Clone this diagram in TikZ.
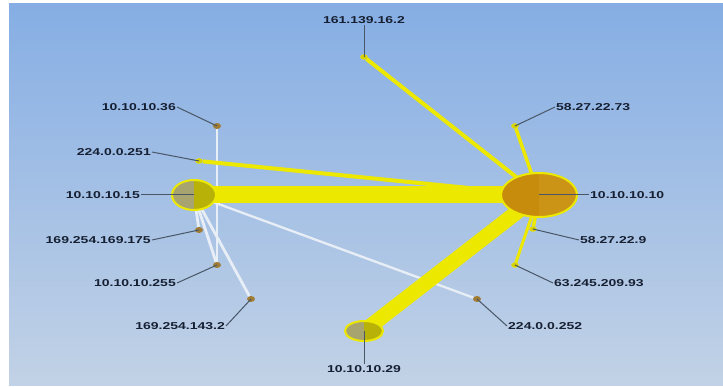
\documentclass[tikz,border=0pt]{standalone}
\usepackage{fontspec}
\usepackage{tikz}
\usetikzlibrary{shapes.geometric}
\newfontfamily\ipfont[FakeStretch=1.4]{Liberation Sans}
\definecolor{bgtop}{RGB}{134,174,228}
\definecolor{bgbottom}{RGB}{194,210,230}
\definecolor{flowyellow}{RGB}{236,232,0}
\definecolor{flowwhite}{RGB}{232,238,246}
\definecolor{hostbrown}{RGB}{160,124,52}
\definecolor{hostlit}{RGB}{214,208,0}
\definecolor{hubleft}{RGB}{200,140,12}
\definecolor{hubright}{RGB}{203,148,22}
\definecolor{srcleft}{RGB}{168,164,112}
\definecolor{srcright}{RGB}{184,178,8}
\definecolor{leadgray}{RGB}{72,86,102}
\definecolor{iptext}{RGB}{22,32,50}

\begin{document}
\begin{tikzpicture}[x=1pt,y=-1pt,
  hub/.style={ellipse,draw=flowyellow,line width=2pt,fill=hubleft,inner sep=0pt,
    path picture={\fill[hubright] (path picture bounding box.north) rectangle (path picture bounding box.south east);}},
  src/.style={ellipse,draw=flowyellow,line width=2pt,fill=srcleft,inner sep=0pt,
    path picture={\fill[srcright] (path picture bounding box.north) rectangle (path picture bounding box.south east);}},
  host/.style={ellipse,fill=hostbrown,minimum width=8pt,minimum height=6pt,inner sep=0pt},
  litehost/.style={ellipse,fill=hostlit,draw=flowyellow,minimum width=7pt,minimum height=5pt,inner sep=0pt},
  ylink/.style={draw=flowyellow},
  wlink/.style={draw=flowwhite,line width=2.8pt},
  lead/.style={draw=leadgray,line width=1pt},
  ip/.style={font=\ipfont\bfseries\fontsize{10}{12}\selectfont,text=iptext,inner sep=1pt}]

\useasboundingbox (0,0) rectangle (723,387);
\shade[top color=bgtop,bottom color=bgbottom] (9,4) rectangle (723,385);

% hosts
\node[host] (d36) at (217,126) {};
\node[litehost] (d251) at (199,161) {};
\node[host] (d175) at (199,230) {};
\node[host] (d255) at (217,265) {};
\node[host] (d143) at (251,299) {};
\node[host] (d252) at (477,299) {};
\node[litehost] (d161) at (364,57) {};
\node[litehost] (d73) at (515,126) {};
\node[litehost] (d9) at (533,229) {};
\node[litehost] (d93) at (515,265) {};
\coordinate (c15) at (194,195);
\coordinate (c10) at (539,195);
\coordinate (c29) at (364,331);

% white flows
\draw[wlink] (d36) -- (d255);
\draw[wlink] (c15) -- (d255);
\draw[wlink] (c15) -- (d143);
\draw[wlink] (c15) -- (d175);
\draw[wlink,line width=2.3pt] (c15) -- (d252);

% yellow flows
\draw[ylink,line width=17pt] (c15) -- (c10);
\draw[ylink,line width=15pt] (c10) -- (c29);
\draw[ylink,line width=4pt] (d251) -- (c10);
\draw[ylink,line width=4pt] (d161) -- (c10);
\draw[ylink,line width=3.5pt] (d73) -- (c10);
\draw[ylink,line width=3.5pt] (d9) -- (c10);
\draw[ylink,line width=3pt] (d93) -- (c10);

% talkers
\node[hub,minimum width=76pt,minimum height=44pt] (n10) at (c10) {};
\node[src,minimum width=44pt,minimum height=30pt] (n15) at (c15) {};
\node[src,minimum width=38pt,minimum height=20pt] (n29) at (c29) {};

% labels
\node[ip,anchor=south] (l161) at (364,25) {161.139.16.2};
\node[ip,anchor=west] (l73) at (555,107) {58.27.22.73};
\node[ip,anchor=west] (l10) at (589,195) {10.10.10.10};
\node[ip,anchor=west] (l9) at (579,240) {58.27.22.9};
\node[ip,anchor=west] (l93) at (553,283) {63.245.209.93};
\node[ip,anchor=west] (l252) at (507,326) {224.0.0.252};
\node[ip,anchor=north] (l29) at (364,364) {10.10.10.29};
\node[ip,anchor=east] (l143) at (226,326) {169.254.143.2};
\node[ip,anchor=east] (l255) at (177,283) {10.10.10.255};
\node[ip,anchor=east] (l175) at (152,240) {169.254.169.175};
\node[ip,anchor=east] (l15) at (141,195) {10.10.10.15};
\node[ip,anchor=east] (l251) at (152,152) {224.0.0.251};
\node[ip,anchor=east] (l36) at (177,107) {10.10.10.36};

% leader lines
\draw[lead] (d161.center) -- (l161.south);
\draw[lead] (d73.center) -- (l73.west);
\draw[lead] (n10.center) -- (l10.west);
\draw[lead] (d9.center) -- (l9.west);
\draw[lead] (d93.center) -- (l93.west);
\draw[lead] (d252.center) -- (l252.west);
\draw[lead] (n29.center) -- (l29.north);
\draw[lead] (d143.center) -- (l143.east);
\draw[lead] (d255.center) -- (l255.east);
\draw[lead] (d175.center) -- (l175.east);
\draw[lead] (n15.center) -- (l15.east);
\draw[lead] (d251.center) -- (l251.east);
\draw[lead] (d36.center) -- (l36.east);
\end{tikzpicture}
\end{document}
